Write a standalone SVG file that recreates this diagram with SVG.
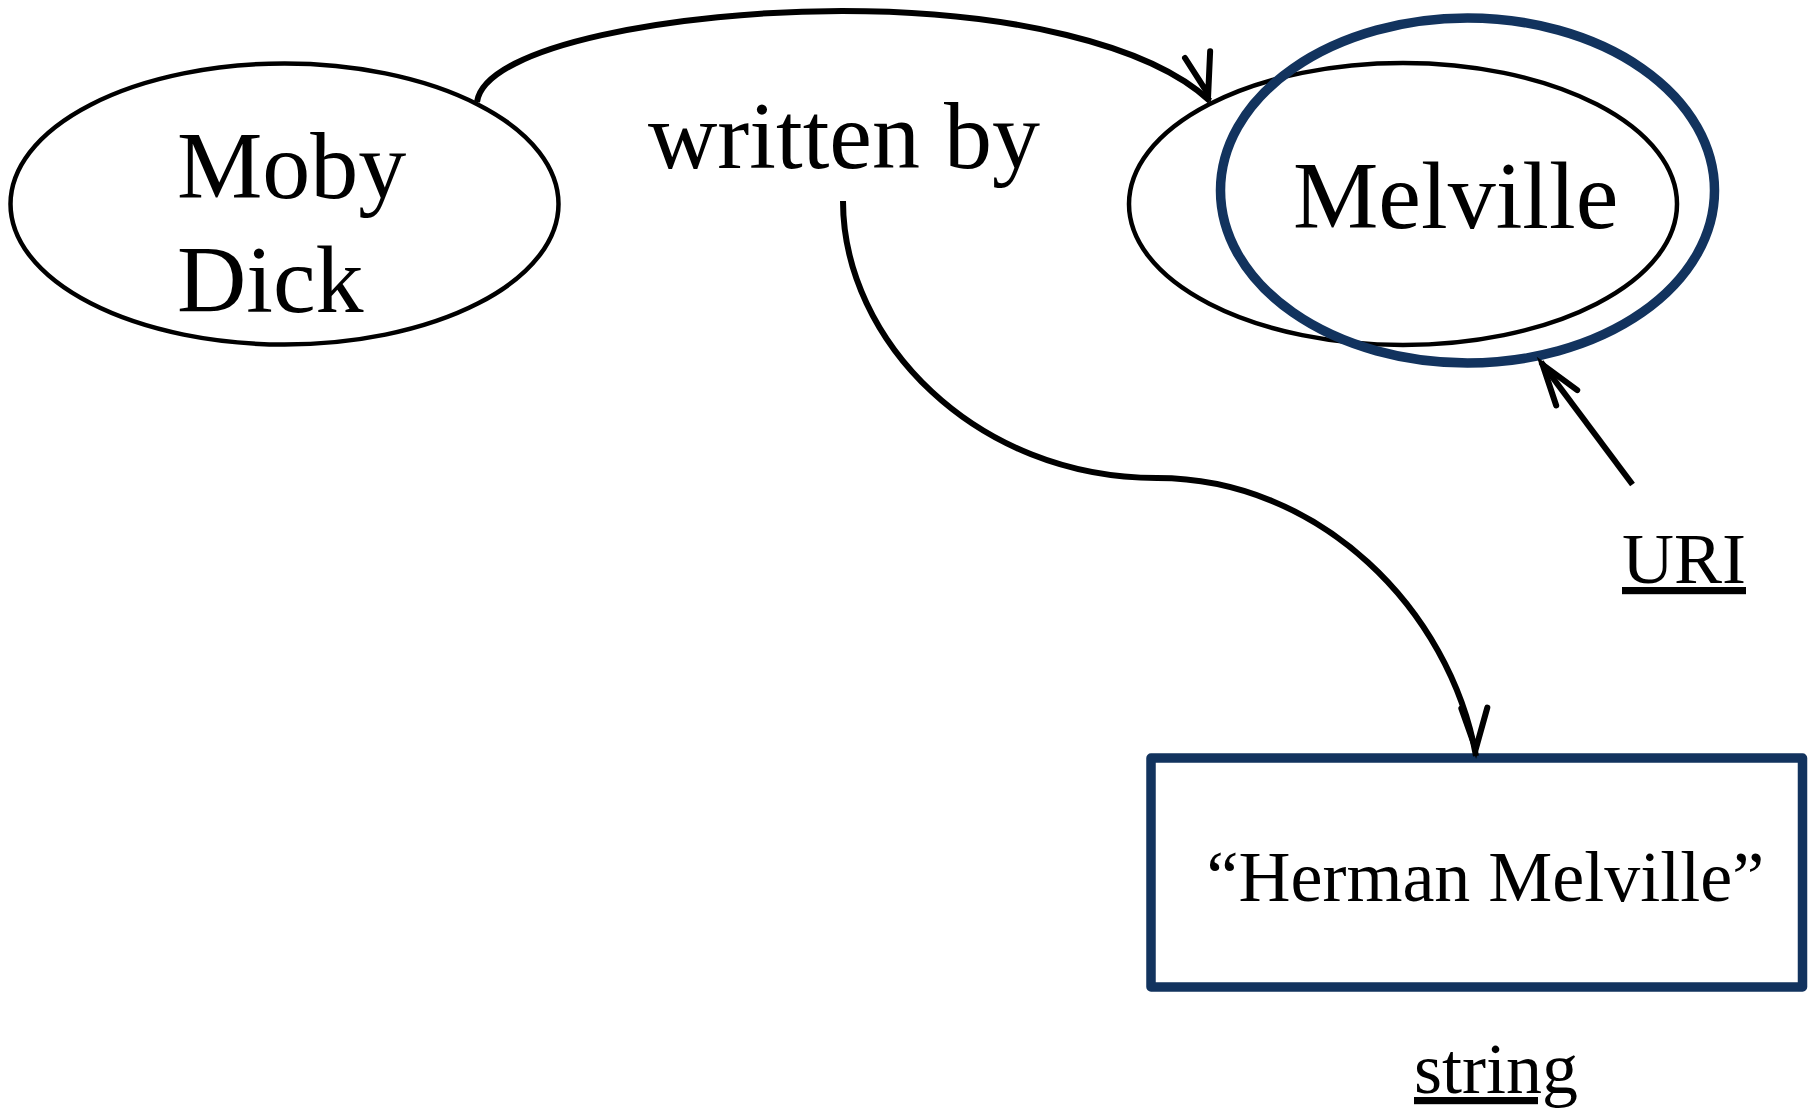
<svg xmlns="http://www.w3.org/2000/svg" xmlns:xlink="http://www.w3.org/1999/xlink" width="1814" height="1113" viewBox="0 0 1814 1113">
  <style>
    .txt { font-family: "Liberation Serif", "Times New Roman", serif; fill: #000; }
    .big { font-size: 96px; }
    .mid { font-size: 72px; }
    .node { fill: none; stroke: #000; stroke-width: 4.5; }
    .navy { fill: none; stroke: #12335E; stroke-width: 9.5; stroke-linejoin: round; }
    .conn { fill: none; stroke: #000; stroke-width: 6; stroke-linecap: butt; }
    .head { fill: none; stroke: #000; stroke-width: 6; stroke-linecap: round; stroke-linejoin: miter; }
    .ul { text-decoration: underline; }
  </style>
  <defs>
    <path id="arrowhead" class="head" d="M -48 -13 L -7 0 L -48 13"/>
  </defs>
  <rect width="1814" height="1113" fill="#fff"/>

  <g id="node-moby-dick">
    <ellipse class="node" cx="284.5" cy="204" rx="274" ry="140.5"/>
    <text class="txt big" x="177" y="198">Moby</text>
    <text class="txt big" x="177" y="312">Dick</text>
  </g>

  <g id="node-melville">
    <ellipse class="node" cx="1403" cy="204" rx="274" ry="141"/>
    <text class="txt big" x="1293" y="228">Melville</text>
  </g>

  <g id="uri-highlight">
    <ellipse class="navy" cx="1467.5" cy="190.5" rx="247" ry="172.5"/>
  </g>

  <g id="node-literal">
    <rect class="navy" x="1151" y="758" width="651.5" height="229"/>
    <text class="txt mid" x="1206.5" y="901">“Herman Melville”</text>
  </g>

  <g id="label-uri">
    <text class="txt mid ul" x="1622" y="583">URI</text>
  </g>

  <g id="label-string">
    <text class="txt mid ul" x="1414" y="1093">string</text>
  </g>

  <g id="label-written-by">
    <text class="txt big" x="648" y="168">written by</text>
  </g>

  <g id="connectors">
    <path class="conn" d="M 477 102 C 485 45, 680 11, 842 11 C 1010 11, 1150 45, 1210 101"/>
    <use xlink:href="#arrowhead" href="#arrowhead" transform="translate(1210,101) rotate(75)"/>
    <path class="conn" d="M 843 201 C 843 340, 975 478, 1157 478 C 1320 478, 1450 610, 1476 756"/>
    <use xlink:href="#arrowhead" href="#arrowhead" transform="translate(1476,756) rotate(88)"/>
    <path class="conn" d="M 1632.5 484.5 L 1541 362"/>
    <use xlink:href="#arrowhead" href="#arrowhead" transform="translate(1538.5,359) rotate(234)"/>
  </g>
</svg>
